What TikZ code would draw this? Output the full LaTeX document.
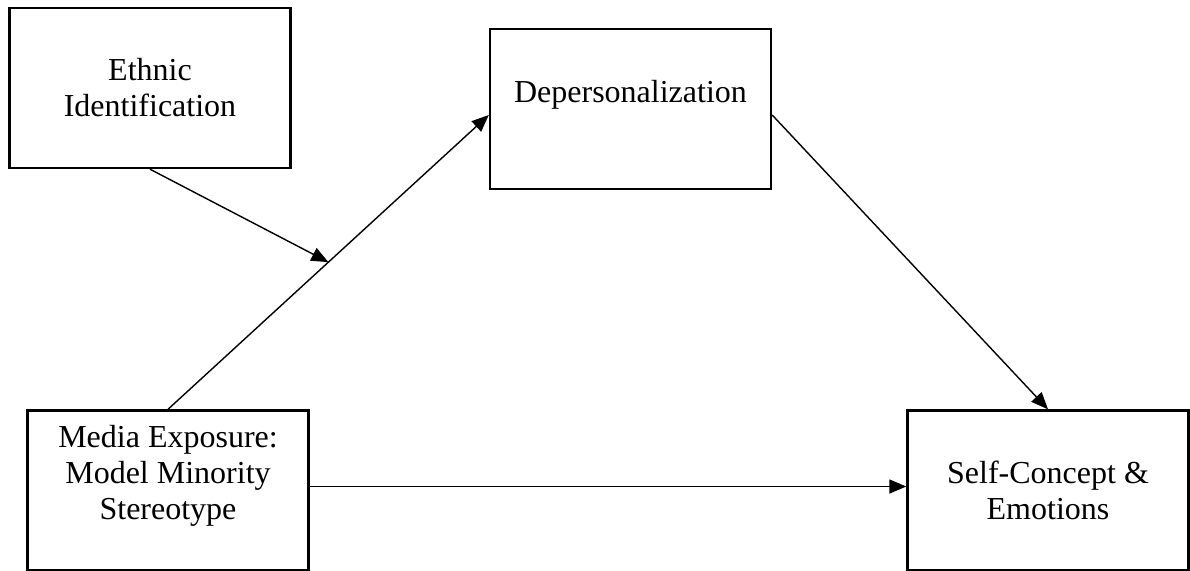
\documentclass[tikz,border=0pt]{standalone}
\usepackage{fontspec}
\setmainfont{Liberation Serif}
\usetikzlibrary{arrows.meta,calc}
\begin{document}
\begin{tikzpicture}[x=1pt, y=-1pt,
    varbox/.style={draw=black, line width=2.4pt, inner sep=0pt, minimum width=281pt, minimum height=160pt,
        align=center, font=\fontsize{32}{36}\selectfont},
    path/.style={line width=1.4pt, -{Triangle[length=17pt, width=14pt]}}]
    \useasboundingbox[fill=white] (0,0) rectangle (1190,570);
    \node[varbox] (ethnic) at (150,88) {Ethnic\\Identification};
    \node[varbox] (deper) at (630.5,109) {Depersonalization\\~};
    \node[varbox] (media) at (168,490.5) {Media Exposure:\\Model Minority\\Stereotype\\~};
    \node[varbox] (self) at (1048,490.5) {Self-Concept \&\\Emotions};
    \draw[path] (media.north) -- ($(deper.west)+(0,6)$) coordinate[pos=0.5] (moderate);
    \draw[path] ($(deper.east)+(0,6)$) -- (self.north);
    \draw[path] ($(media.east)+(0,-4)$) -- ($(self.west)+(0,-4)$);
    \draw[path] (ethnic.south) -- (moderate);
\end{tikzpicture}
\end{document}
